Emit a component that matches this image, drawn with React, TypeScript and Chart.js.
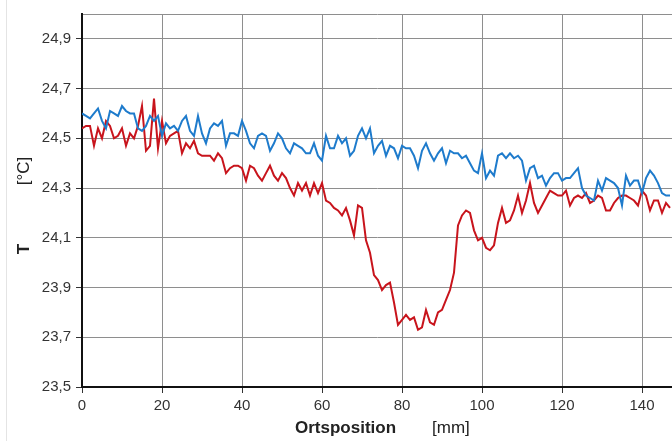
import React, { useEffect, useRef } from 'react';
import { Chart, registerables } from 'chart.js';

Chart.register(...registerables);

// Ortsposition in mm
const positions = [
  0, 1, 2, 3, 4, 5, 6, 7, 8, 9, 10, 11, 12, 13, 14, 15, 16, 17, 18, 19,
  20, 21, 22, 23, 24, 25, 26, 27, 28, 29, 30, 31, 32, 33, 34, 35, 36, 37, 38, 39,
  40, 41, 42, 43, 44, 45, 46, 47, 48, 49, 50, 51, 52, 53, 54, 55, 56, 57, 58, 59,
  60, 61, 62, 63, 64, 65, 66, 67, 68, 69, 70, 71, 72, 73, 74, 75, 76, 77, 78, 79,
  80, 81, 82, 83, 84, 85, 86, 87, 88, 89, 90, 91, 92, 93, 94, 95, 96, 97, 98, 99,
  100, 101, 102, 103, 104, 105, 106, 107, 108, 109, 110, 111, 112, 113, 114, 115, 116, 117, 118, 119,
  120, 121, 122, 123, 124, 125, 126, 127, 128, 129, 130, 131, 132, 133, 134, 135, 136, 137, 138, 139,
  140, 141, 142, 143, 144, 145, 146, 147,
];

// Blue series (°C)
const blueT = [
  24.60, 24.59, 24.58, 24.60, 24.62, 24.57, 24.54, 24.61, 24.60, 24.59,
  24.63, 24.61, 24.60, 24.60, 24.54, 24.53, 24.55, 24.59, 24.57, 24.59,
  24.51, 24.56, 24.54, 24.55, 24.53, 24.57, 24.59, 24.53, 24.51, 24.59,
  24.52, 24.48, 24.54, 24.56, 24.55, 24.57, 24.47, 24.52, 24.52, 24.51,
  24.57, 24.53, 24.48, 24.46, 24.51, 24.52, 24.51, 24.45, 24.48, 24.52,
  24.50, 24.46, 24.44, 24.48, 24.47, 24.46, 24.44, 24.44, 24.48, 24.43,
  24.41, 24.51, 24.46, 24.46, 24.51, 24.48, 24.50, 24.43, 24.45, 24.51,
  24.54, 24.50, 24.54, 24.44, 24.47, 24.49, 24.43, 24.47, 24.46, 24.42,
  24.47, 24.46, 24.46, 24.43, 24.38, 24.45, 24.48, 24.44, 24.41, 24.44,
  24.46, 24.40, 24.45, 24.44, 24.44, 24.42, 24.43, 24.40, 24.37, 24.36,
  24.44, 24.34, 24.37, 24.35, 24.43, 24.44, 24.42, 24.44, 24.42, 24.43,
  24.41, 24.33, 24.38, 24.39, 24.34, 24.35, 24.31, 24.34, 24.36, 24.36,
  24.33, 24.34, 24.34, 24.36, 24.38, 24.30, 24.27, 24.26, 24.25, 24.33,
  24.29, 24.34, 24.33, 24.32, 24.30, 24.23, 24.35, 24.31, 24.33, 24.33,
  24.28, 24.34, 24.37, 24.35, 24.32, 24.28, 24.27, 24.27,
];

// Red series (°C)
const redT = [
  24.54, 24.55, 24.55, 24.47, 24.54, 24.50, 24.57, 24.55, 24.50, 24.51,
  24.54, 24.47, 24.52, 24.50, 24.55, 24.63, 24.45, 24.47, 24.66, 24.46,
  24.57, 24.48, 24.51, 24.52, 24.53, 24.44, 24.48, 24.46, 24.49, 24.44,
  24.43, 24.43, 24.43, 24.41, 24.44, 24.42, 24.36, 24.38, 24.39, 24.39,
  24.38, 24.33, 24.39, 24.38, 24.35, 24.33, 24.36, 24.39, 24.35, 24.33,
  24.36, 24.34, 24.30, 24.27, 24.32, 24.29, 24.32, 24.27, 24.32, 24.28,
  24.32, 24.25, 24.24, 24.22, 24.21, 24.19, 24.22, 24.17, 24.11, 24.23,
  24.22, 24.09, 24.04, 23.95, 23.93, 23.89, 23.91, 23.92, 23.84, 23.75,
  23.77, 23.79, 23.77, 23.78, 23.73, 23.74, 23.81, 23.76, 23.75, 23.80,
  23.81, 23.85, 23.89, 23.96, 24.15, 24.19, 24.21, 24.20, 24.13, 24.09,
  24.10, 24.06, 24.05, 24.07, 24.16, 24.22, 24.16, 24.17, 24.21, 24.27,
  24.20, 24.25, 24.32, 24.24, 24.20, 24.23, 24.26, 24.29, 24.28, 24.27,
  24.27, 24.29, 24.23, 24.26, 24.27, 24.26, 24.28, 24.24, 24.25, 24.27,
  24.26, 24.21, 24.21, 24.24, 24.26, 24.27, 24.27, 24.26, 24.25, 24.23,
  24.29, 24.27, 24.21, 24.25, 24.25, 24.20, 24.24, 24.22,
];

const xTicks = [0, 20, 40, 60, 80, 100, 120, 140];
const yTicks = [23.5, 23.7, 23.9, 24.1, 24.3, 24.5, 24.7, 24.9];
const xMin = 0;
const xMax = 147.5;
const yMin = 23.5;
const yMax = 25.0;

const titlePlugin = {
  id: 'axisTitles',
  afterDraw(chart: any) {
    const ctx = chart.ctx;
    ctx.save();
    ctx.fillStyle = '#222';
    // faint frame line at left
    ctx.strokeStyle = '#e4e4e4';
    ctx.lineWidth = 1;
    ctx.beginPath();
    ctx.moveTo(6.5, 0);
    ctx.lineTo(6.5, 441);
    ctx.stroke();
    // y title
    ctx.save();
    ctx.translate(24, 249);
    ctx.rotate(-Math.PI / 2);
    ctx.textAlign = 'center';
    ctx.textBaseline = 'middle';
    ctx.font = 'bold 17px "Liberation Sans", Arial, sans-serif';
    ctx.fillText('T', 0, 0);
    ctx.restore();
    ctx.save();
    ctx.translate(24, 171);
    ctx.rotate(-Math.PI / 2);
    ctx.textAlign = 'center';
    ctx.textBaseline = 'middle';
    ctx.font = '17px "Liberation Sans", Arial, sans-serif';
    ctx.fillText('[°C]', 0, 0);
    ctx.restore();
    // x title
    ctx.textBaseline = 'alphabetic';
    ctx.textAlign = 'left';
    ctx.font = 'bold 17px "Liberation Sans", Arial, sans-serif';
    ctx.fillText('Ortsposition', 295, 433);
    ctx.font = '17px "Liberation Sans", Arial, sans-serif';
    ctx.fillText('[mm]', 432, 433);
    ctx.restore();
  },
};

export default function App() {
  const canvasRef = useRef<HTMLCanvasElement | null>(null);

  useEffect(() => {
    const canvas = canvasRef.current;
    if (!canvas) return;
    const chart = new Chart(canvas, {
      type: 'line',
      data: {
        datasets: [
          {
            label: 'blau',
            data: positions.map((x, i) => ({ x, y: blueT[i] })),
            borderColor: '#1e7bcc',
            borderWidth: 2,
            pointRadius: 0,
            tension: 0,
            fill: false,
          },
          {
            label: 'rot',
            data: positions.map((x, i) => ({ x, y: redT[i] })),
            borderColor: '#c8141c',
            borderWidth: 2,
            pointRadius: 0,
            tension: 0,
            fill: false,
          },
        ],
      },
      options: {
        animation: false,
        responsive: false,
        devicePixelRatio: 1,
        layout: { padding: { top: 10, left: 0, right: 0, bottom: 0 } },
        plugins: {
          legend: { display: false },
          tooltip: { enabled: false },
        },
        scales: {
          x: {
            type: 'linear',
            min: xMin,
            max: xMax,
            afterBuildTicks: (scale: any) => {
              scale.ticks = xTicks.map((v) => ({ value: v }));
            },
            afterFit: (scale: any) => {
              scale.height = 54;
            },
            grid: {
              color: '#8e8e8e',
              lineWidth: 1,
              tickLength: 6,
              tickColor: '#333',
            },
            border: { color: '#111', width: 2 },
            ticks: {
              color: '#333',
              padding: 4,
              font: { family: '"Liberation Sans", Arial, sans-serif', size: 15 },
              maxRotation: 0,
              autoSkip: false,
              callback: (v: any) => String(v),
            },
          },
          y: {
            type: 'linear',
            min: yMin,
            max: yMax,
            afterBuildTicks: (scale: any) => {
              scale.ticks = [...yTicks, yMax].map((v) => ({ value: v }));
            },
            afterFit: (scale: any) => {
              scale.width = 82;
            },
            grid: {
              color: '#8e8e8e',
              lineWidth: 1,
              tickLength: 6,
              tickColor: (ctx: any) =>
                ctx.tick && Math.abs(ctx.tick.value - yMax) < 1e-6 ? 'rgba(0,0,0,0)' : '#333',
            },
            border: { color: '#111', width: 2 },
            ticks: {
              color: '#333',
              padding: 5,
              autoSkip: false,
              font: { family: '"Liberation Sans", Arial, sans-serif', size: 15 },
              callback: (v: any) =>
                Math.abs(Number(v) - yMax) < 1e-6 ? '' : Number(v).toFixed(1).replace('.', ','),
            },
          },
        },
      },
      plugins: [titlePlugin],
    });
    return () => chart.destroy();
  }, []);

  return (
    <div style={{ position: 'absolute', left: 0, top: 0, width: 672, height: 441, background: '#fff' }}>
      <canvas ref={canvasRef} width={672} height={441} style={{ display: 'block' }} />
    </div>
  );
}
